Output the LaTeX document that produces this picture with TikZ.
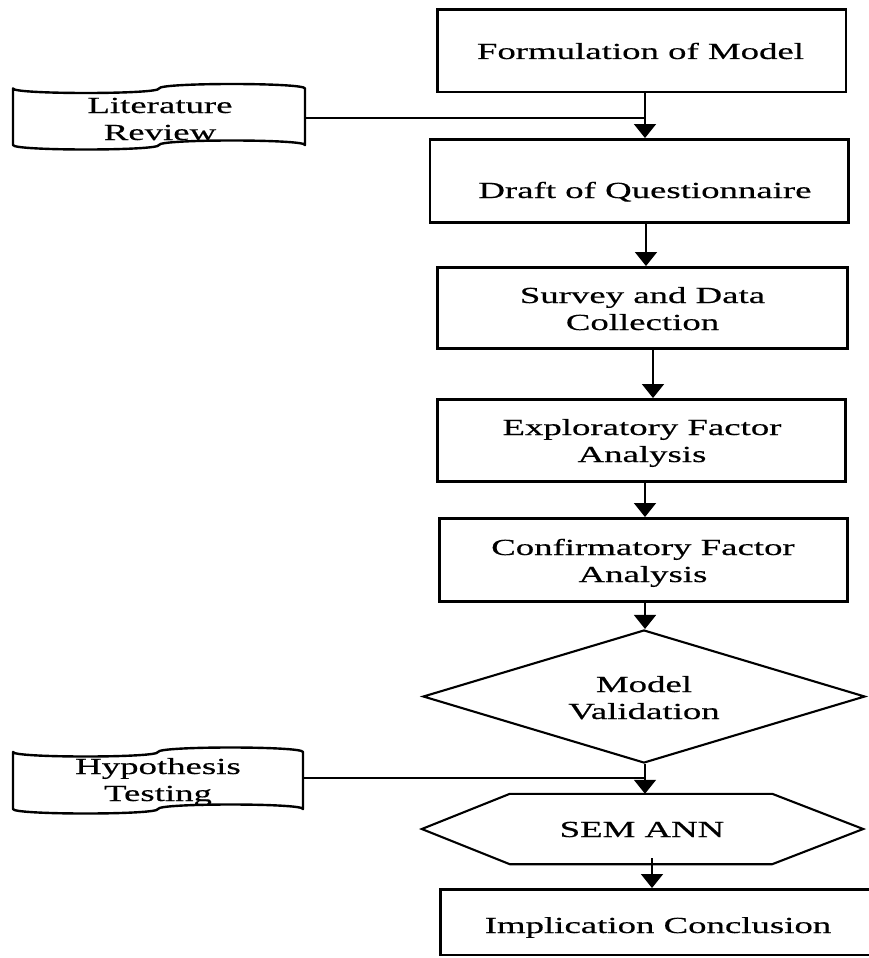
\documentclass[tikz,border=0pt]{standalone}
\usepackage{fontspec}
\setmainfont{Liberation Serif}[FakeStretch=1.6,FakeBold=0.5]
\usetikzlibrary{arrows.meta,shapes.geometric}
\newcommand{\tworows}[2]{\begin{tabular}[t]{@{}c@{}}#1\\#2\end{tabular}}
\begin{document}
\begin{tikzpicture}[x=1pt,y=-1pt,
  stepbox/.style={draw, line width=2.9pt, inner sep=0},
  lbl/.style={anchor=base, inner sep=0, font=\fontsize{23}{27}\selectfont},
  arr/.style={line width=1.6pt, -{Triangle[width=22pt,length=14pt]}},
  feed/.style={line width=1.1pt},
  tape/.style={line width=2.4pt, line join=round}]
  \useasboundingbox (0,0) rectangle (869,958);
  \fill[white] (0,0) rectangle (869,958);

  % process boxes
  \node[stepbox, minimum width=408.5pt, minimum height=82.5pt] (form)   at (641.75,50.75) {};
  \node[stepbox, minimum width=418.5pt, minimum height=83pt]   (draft)  at (639.25,181) {};
  \node[stepbox, minimum width=410pt,   minimum height=81pt]   (survey) at (642.5,308) {};
  \node[stepbox, minimum width=408pt,   minimum height=82pt]   (efa)    at (641.5,440.5) {};
  \node[stepbox, minimum width=408pt,   minimum height=83pt]   (cfa)    at (643.5,560) {};
  \node[stepbox, minimum width=435.5pt, minimum height=65.5pt] (impl)   at (658.25,922.25) {};

  % decision and preparation shapes
  \node[diamond, draw, line width=2.1pt, inner sep=0,
        minimum width=442pt, minimum height=133pt] (valid) at (644,696.5) {};
  \node[inner sep=0, minimum width=441pt, minimum height=70pt] (sem) at (642.5,829) {};
  \draw[line width=2.1pt, line join=miter]
    (sem.west) -- ([xshift=88pt]sem.north west) -- ([xshift=-91pt]sem.north east)
    -- (sem.east) -- ([xshift=-91pt]sem.south east) -- ([xshift=88pt]sem.south west) -- cycle;

  % punched-tape inputs
  \node[inner sep=0, minimum width=292pt, minimum height=56.5pt] (lit) at (159,116.75) {};
  \draw[tape] (13,88.5) .. controls (13,94.5) and (159,94.5) .. (159,88.5)
    .. controls (159,82.5) and (305,82.5) .. (305,88.5) -- (305,145)
    .. controls (305,139) and (159,139) .. (159,145)
    .. controls (159,151) and (13,151) .. (13,145) -- cycle;
  \node[inner sep=0, minimum width=290pt, minimum height=57pt] (hyp) at (158,780.5) {};
  \draw[tape] (13,752) .. controls (13,758) and (158,758) .. (158,752)
    .. controls (158,746) and (303,746) .. (303,752) -- (303,809)
    .. controls (303,803) and (158,803) .. (158,809)
    .. controls (158,815) and (13,815) .. (13,809) -- cycle;

  % texts
  \node[lbl] (tform)   at (640.5,59)  {Formulation of Model};
  \node[lbl] (tdraft)  at (645,198)   {Draft of Questionnaire};
  \node[lbl] (tsurvey) at (642.5,303) {\tworows{Survey and Data}{Collection}};
  \node[lbl] (tefa)    at (642,435)   {\tworows{Exploratory Factor}{Analysis}};
  \node[lbl] (tcfa)    at (643,555)   {\tworows{Confirmatory Factor}{Analysis}};
  \node[lbl] (tvalid)  at (644,692)   {\tworows{Model}{Validation}};
  \node[lbl] (tsem)    at (642,837)   {SEM ANN};
  \node[lbl] (timpl)   at (658,933)   {Implication Conclusion};
  \node[lbl] (tlit)    at (160,113)   {\tworows{Literature}{Review}};
  \node[lbl] (thyp)    at (158,774)   {\tworows{Hypothesis}{Testing}};

  % connectors
  \coordinate (c1) at (645,0);
  \coordinate (c2) at (646,0);
  \coordinate (c3) at (653,0);
  \coordinate (c4) at (645,0);
  \coordinate (litjoin) at (645,118);
  \coordinate (hypjoin) at (645,778);
  \coordinate (semout) at (652,858);

  \draw[arr] (form.south -| c1) -- (draft.north -| c1);
  \draw[feed] (litjoin -| lit.east) -- (litjoin);
  \draw[arr] (draft.south -| c2) -- (survey.north -| c2);
  \draw[arr] (survey.south -| c3) -- (efa.north -| c3);
  \draw[arr] (efa.south -| c4) -- (cfa.north -| c4);
  \draw[arr] (cfa.south -| c4) -- (valid.north -| c4);
  \draw[arr] (valid.south -| c4) -- (sem.north -| c4);
  \draw[feed] (hypjoin -| hyp.east) -- (hypjoin);
  \draw[arr] (semout) -- (semout |- impl.north);
\end{tikzpicture}
\end{document}
